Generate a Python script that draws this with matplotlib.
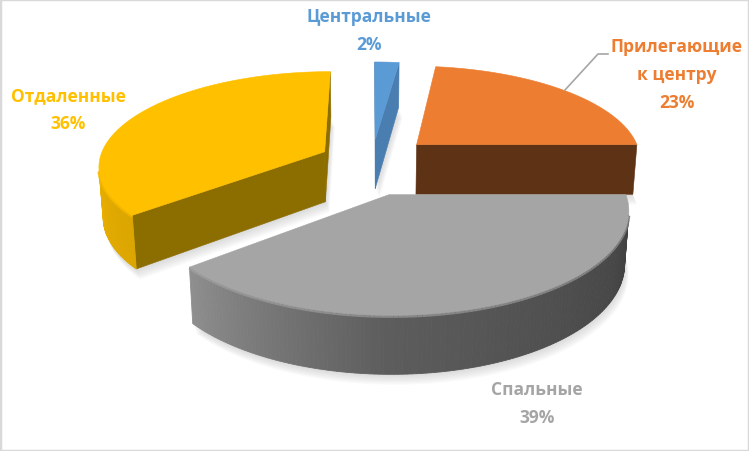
import numpy as np
import matplotlib.pyplot as plt
from matplotlib.patches import Polygon, Rectangle

# data
labels = ["Центральные", "Прилегающие\nк центру", "Спальные", "Отдаленные"]
values = [2, 23, 39, 36]
explode = [0.24, 0.27, 0.35, 0.235]
explode_turn = [0, 0, 8, 0]  # degrees added to the slice's mid angle
top_colors = ["#5B9BD5", "#ED7D31", "#A5A5A5", "#FFC000"]
cut_colors = ["#4A7DB0", "#5E3215", "#5A5A5A", "#8C6D00"]

# view / geometry of the fake 3d pie (screen pixels)
CX, CY = 372, 162
FOC = 1483.0
DIST = 6.57
ELEV = np.radians(24.5)
DEPTH = 0.25
cam = np.array([0.0, -DIST * np.cos(ELEV), DIST * np.sin(ELEV)])


def project(X, Y, Z):
    d = DIST + Y * np.cos(ELEV) - Z * np.sin(ELEV)
    sx = CX + FOC * X / d
    sy = CY - FOC * (Y * np.sin(ELEV) + Z * np.cos(ELEV)) / d
    return sx, sy


def poly(pts):
    pts = np.asarray(pts, dtype=float)
    sx, sy = project(pts[:, 0], pts[:, 1], pts[:, 2])
    return np.column_stack([sx, sy])


def visible(p, n):
    return np.dot(n, cam - p) > 0


def to_rgb(color):
    return np.array(plt.matplotlib.colors.to_rgb(color))


def shade(color, f):
    return tuple(np.clip(to_rgb(color) * f, 0, 1))


def wall_factor(t):
    return np.interp(t, [0, 90, 180, 230, 270, 360], [0.9, 0.37, 0.56, 0.86, 0.93, 0.9])


fig = plt.figure(figsize=(7.49, 4.52), dpi=100)
ax = fig.add_axes([0, 0, 1, 1])
ax.set_xlim(0, 749)
ax.set_ylim(452, 0)
ax.axis('off')

total = float(sum(values))
bounds = np.concatenate([[0], np.cumsum(values)]) / total * 360.0

slices = []
for i in range(len(values)):
    a0, a1 = bounds[i], bounds[i + 1]
    mid = np.radians((a0 + a1) / 2 + explode_turn[i])
    ox, oy = explode[i] * np.sin(mid), explode[i] * np.cos(mid)
    tt = np.linspace(a0, a1, max(int(a1 - a0) + 2, 3))
    tr = np.radians(tt)
    rx, ry = ox + np.sin(tr), oy + np.cos(tr)
    slices.append((i, a0, a1, ox, oy, tt, rx, ry))

# soft shadow under the slices
for i, a0, a1, ox, oy, tt, rx, ry in slices:
    pts = [(ox, oy, -DEPTH)] + [(x, y, -DEPTH) for x, y in zip(rx, ry)]
    base = poly(pts)
    for k in range(1, 9):
        ax.add_patch(Polygon(base + [k * 0.5, k * 1.3], closed=True, facecolor='#7f7f7f',
                             edgecolor='none', alpha=0.035, zorder=1))

# far slices first
order = sorted(slices, key=lambda s: -s[4])
for rank, (i, a0, a1, ox, oy, tt, rx, ry) in enumerate(order):
    zbase = 2 + rank * 4
    apex = np.array([ox, oy, 0.0])
    # cut faces
    for ang, sign in ((a0, -1), (a1, 1)):
        ar = np.radians(ang)
        n = np.array([sign * np.cos(ar), -sign * np.sin(ar), 0.0])
        if visible(apex, n):
            ex, ey = ox + np.sin(ar), oy + np.cos(ar)
            pts = [(ox, oy, 0), (ex, ey, 0), (ex, ey, -DEPTH), (ox, oy, -DEPTH)]
            ax.add_patch(Polygon(poly(pts), closed=True, facecolor=cut_colors[i],
                                 edgecolor=cut_colors[i], linewidth=0.4, zorder=zbase))
    # outer wall, shaded strip by strip
    for j in range(len(tt) - 1):
        tm = (tt[j] + tt[j + 1]) / 2
        n = np.array([np.sin(np.radians(tm)), np.cos(np.radians(tm)), 0.0])
        p = np.array([rx[j], ry[j], 0.0])
        if visible(p, n):
            c = shade(top_colors[i], wall_factor(tm))
            pts = [(rx[j], ry[j], 0), (rx[j + 1], ry[j + 1], 0),
                   (rx[j + 1], ry[j + 1], -DEPTH), (rx[j], ry[j], -DEPTH)]
            ax.add_patch(Polygon(poly(pts), closed=True, facecolor=c, edgecolor=c,
                                 linewidth=0.6, zorder=zbase + 1))
            # soft rounded top edge
            mix = tuple(0.6 * to_rgb(top_colors[i]) + 0.4 * np.array(c))
            seg = poly(pts[:2])
            ax.plot(seg[:, 0], seg[:, 1] + 1.0, color=mix, linewidth=2.2,
                    solid_capstyle='butt', zorder=zbase + 1.5)
    # top face
    pts = [(ox, oy, 0)] + [(x, y, 0) for x, y in zip(rx, ry)]
    ax.add_patch(Polygon(poly(pts), closed=True, facecolor=top_colors[i],
                         edgecolor=top_colors[i], linewidth=0.4, zorder=zbase + 2))

# labels
font = ['Open Sans', 'DejaVu Sans']
lab_pos = [(369, 31), (677, 75), (537, 404), (68, 110)]
for i in range(len(values)):
    pct = "{:.0f}%".format(values[i] / total * 100)
    ax.text(lab_pos[i][0], lab_pos[i][1], labels[i] + "\n" + pct, ha='center', va='center',
            color=top_colors[i], fontsize=12.5, fontweight='bold', family=font,
            linespacing=1.7, zorder=30)

# leader line for the orange label
ax.plot([608, 598, 565], [55, 55, 91], color='#A6A6A6', linewidth=1.2, zorder=25)

fig.patches.append(Rectangle((0, 0), 1, 1, transform=fig.transFigure, fill=False,
                             edgecolor='#D9D9D9', linewidth=2.5))
fig.savefig('out.png', dpi=100)
